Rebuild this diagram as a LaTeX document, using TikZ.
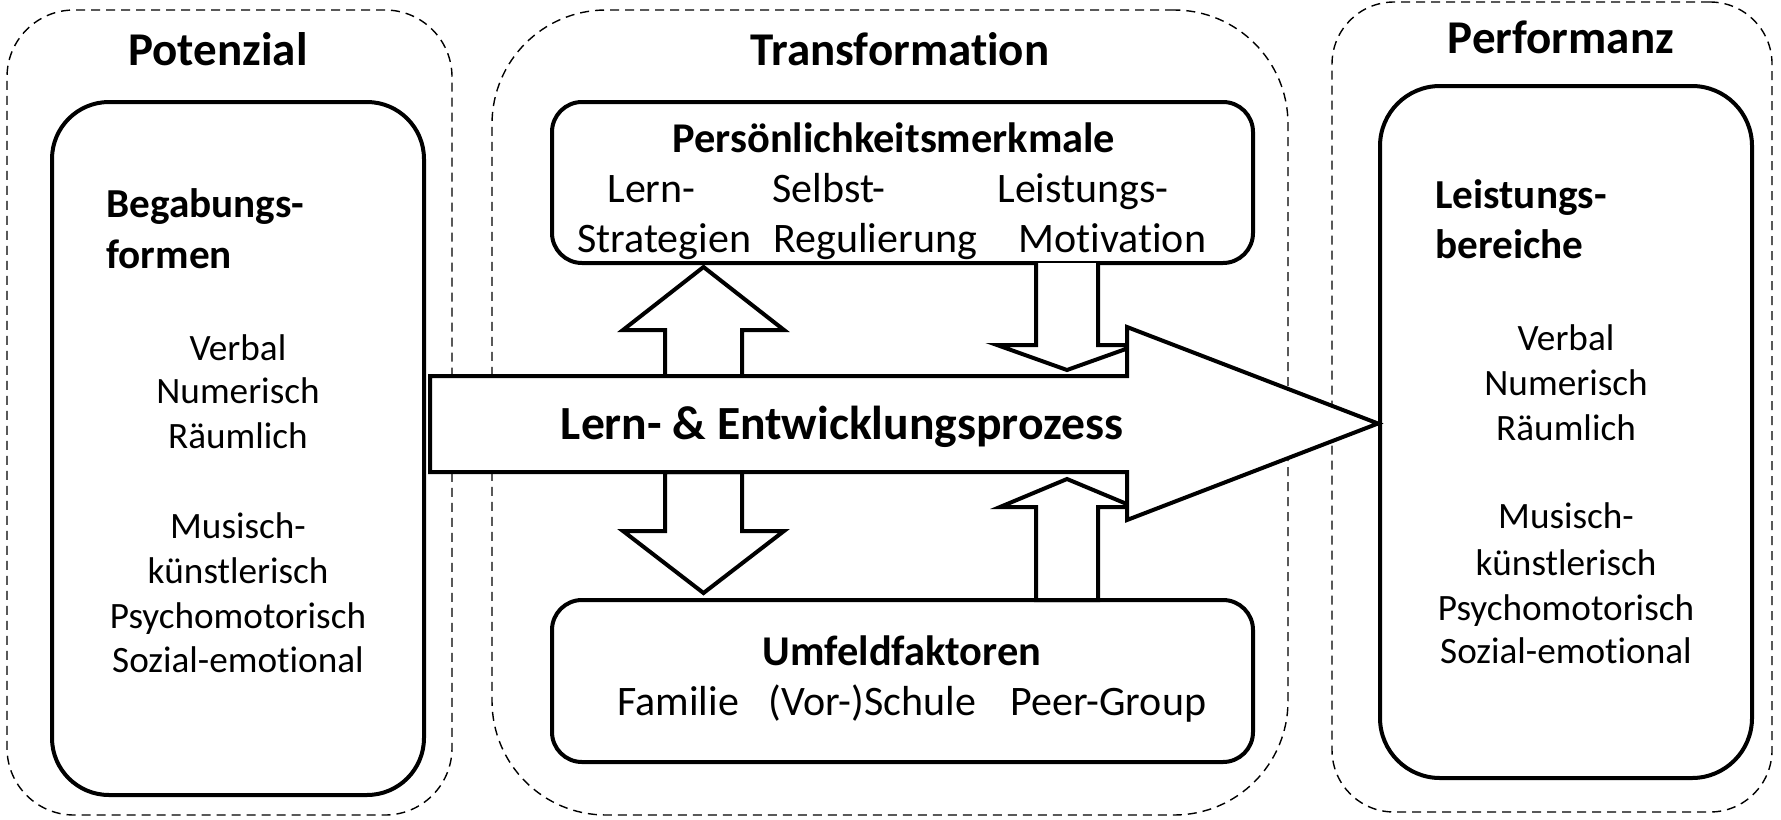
\documentclass[tikz,border=0pt]{standalone}
\usepackage{fontspec}
\setmainfont{Carlito}[Ligatures=NoCommon]
\begin{document}
\begin{tikzpicture}[x=0.5pt,y=-0.5pt,
  cont/.style={draw, rectangle, dash pattern=on 4.5pt off 3pt, line width=0.7pt, inner sep=0pt},
  rbox/.style={draw, rectangle, line width=2pt, fill=white, inner sep=0pt},
  barrow/.style={draw, line width=2pt, fill=white, line join=miter},
  ttl/.style={font=\fontsize{23.5}{28}\selectfont\bfseries, anchor=base, inner sep=0pt},
  hd/.style={font=\fontsize{20.6}{25}\selectfont\bfseries, anchor=base west, inner sep=0pt},
  hdc/.style={font=\fontsize{21.2}{25}\selectfont\bfseries, anchor=base, inner sep=0pt},
  txt/.style={font=\fontsize{18.6}{22}\selectfont, anchor=base, inner sep=0pt},
  mid/.style={font=\fontsize{21}{25}\selectfont, anchor=base west, inner sep=0pt}]
\useasboundingbox (0,0) rectangle (1781,819);

% dashed containers
\node[cont, rounded corners=33.5pt, minimum width=222.5pt, minimum height=402.5pt] (cPot) at (229.5,412.5) {};
\node[cont, rounded corners=57pt, minimum width=398pt, minimum height=402.5pt] (cTra) at (890,412.5) {};
\node[cont, rounded corners=31pt, minimum width=220pt, minimum height=405pt] (cPer) at (1552,407) {};

% solid boxes
\node[rbox, rounded corners=28.5pt, minimum width=186pt, minimum height=346.5pt] (bBeg) at (238,448.5) {};
\node[rbox, rounded corners=30pt, minimum width=186pt, minimum height=346pt] (bLei) at (1566,432) {};
\node[rbox, rounded corners=15pt, minimum width=350.5pt, minimum height=80.5pt] (bPers) at (902.5,182.5) {};
\node[rbox, rounded corners=15pt, minimum width=350.5pt, minimum height=81pt] (bUmf) at (902.5,681) {};

% block arrows
\draw[barrow] (665,376) -- (665,330) -- (623,330) -- (703.5,267) -- (784,330) -- (742,330) -- (742,376) -- cycle;
\draw[barrow] (665,472) -- (665,531) -- (623,531) -- (703.5,593) -- (784,531) -- (742,531) -- (742,472) -- cycle;
\draw[barrow] (1036,263) -- (1036,345) -- (997,345) -- (1067,370) -- (1137,345) -- (1098,345) -- (1098,263);
\draw[barrow] (1036,600) -- (1036,507) -- (1000,507) -- (1067,479) -- (1134,507) -- (1098,507) -- (1098,600) -- cycle;

% main arrow
\draw[barrow] (430,376) -- (1127,376) -- (1127,327) -- (1378,423.5) -- (1127,520) -- (1127,472) -- (430,472) -- cycle;

% titles
\node[ttl] (tPot) at (218,65) {Potenzial};
\node[ttl] (tTra) at (900,65) {Transformation};
\node[ttl] (tPer) at (1561,53) {Performanz};

% left box
\node[hd] (hBeg1) at (106,217) {Begabungs-};
\node[hd] (hBeg2) at (106,268) {formen};
\foreach \t/\y [count=\i] in {Verbal/360, Numerisch/403, Räumlich/448, Musisch-/538, künstlerisch/583, Psychomotorisch/628, Sozial-emotional/672}
  \node[txt] (L\i) at (238,\y) {\t};

% right box
\node[hd] (hLei1) at (1435,208) {Leistungs-};
\node[hd] (hLei2) at (1435,258) {bereiche};
\foreach \t/\y [count=\i] in {Verbal/350, Numerisch/395, Räumlich/440, Musisch-/528, künstlerisch/575, Psychomotorisch/620, Sozial-emotional/663}
  \node[txt] (R\i) at (1566,\y) {\t};

% Persoenlichkeitsmerkmale
\node[hdc] (hPers) at (894,152) {Persönlichkeitsmerkmale};
\node[mid] (p1) at (607,202) {Lern-};
\node[mid] (p2) at (772,202) {Selbst-};
\node[mid] (p3) at (997,202) {Leistungs-};
\node[mid] (p4) at (577,252) {Strategien};
\node[mid] (p5) at (773,252) {Regulierung};
\node[mid] (p6) at (1018,252) {Motivation};

% Umfeldfaktoren
\node[hdc] (hUmf) at (902,665) {Umfeldfaktoren};
\node[mid] (u1) at (617,715) {Familie};
\node[mid] (u2) at (768,715) {(Vor-)Schule};
\node[mid] (u3) at (1010,715) {Peer-Group};

% main arrow label
\node[font=\fontsize{23.8}{28}\selectfont\bfseries, anchor=base, inner sep=0pt] (mLab) at (842,439) {Lern- \& Entwicklungsprozess};
\end{tikzpicture}
\end{document}
